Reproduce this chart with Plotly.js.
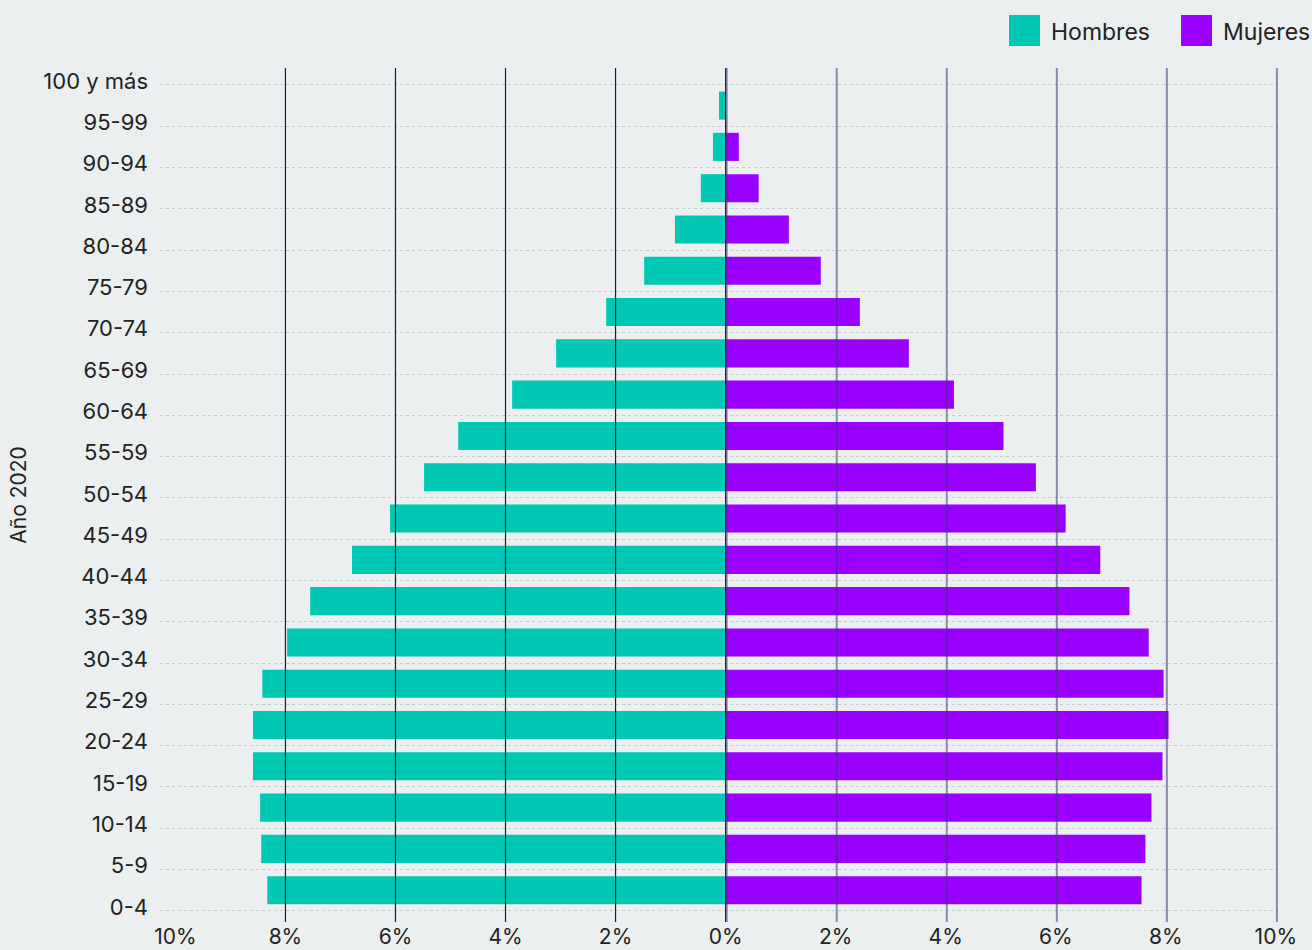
<!DOCTYPE html>
<html>
<head>
<meta charset="utf-8">
<script src="https://cdn.plot.ly/plotly-3.0.1.min.js"></script>
<style>
  html, body { margin: 0; padding: 0; background: #ebefef; }
  #chart { width: 1312px; height: 950px; }
</style>
</head>
<body>
<div id="chart"></div>
<script>
// Tick labels on the y axis (bottom to top)
const ageLabels = ["0-4","5-9","10-14","15-19","20-24","25-29","30-34","35-39","40-44","45-49",
  "50-54","55-59","60-64","65-69","70-74","75-79","80-84","85-89","90-94","95-99","100 y más"];

// Bar values in % of population (bottom bar to top bar)
const hombres = [8.33, 8.44, 8.46, 8.59, 8.59, 8.42, 7.97, 7.55, 6.79, 6.10,
  5.48, 4.86, 3.88, 3.08, 2.17, 1.48, 0.92, 0.45, 0.23, 0.12];
const mujeres = [7.56, 7.63, 7.74, 7.94, 8.05, 7.96, 7.69, 7.34, 6.81, 6.18,
  5.64, 5.05, 4.15, 3.33, 2.44, 1.73, 1.15, 0.60, 0.24, 0.0];

// X axis ticks (in %)
const xTicks = [-10, -8, -6, -4, -2, 0, 2, 4, 6, 8, 10];
const leftGrid = [-8, -6, -4, -2, 0];
const rightGrid = [0, 2, 4, 6, 8, 10];

const seriesNames = ["Hombres", "Mujeres"];
const seriesColors = ["#00c8b3", "#9900ff"];

const FONT = "Inter, 'Open Sans', sans-serif";
const barPos = hombres.map((_, i) => i + 0.5);

const traces = [
  {
    type: "bar", orientation: "h", name: seriesNames[0],
    x: hombres.map(v => -v), y: barPos,
    marker: { color: seriesColors[0], line: { width: 0 } },
    width: 0.68, showlegend: false,
    hovertemplate: "%{customdata}%<extra>Hombres</extra>", customdata: hombres
  },
  {
    type: "bar", orientation: "h", name: seriesNames[1],
    x: mujeres, y: barPos,
    marker: { color: seriesColors[1], line: { width: 0 } },
    width: 0.68, showlegend: false,
    hovertemplate: "%{x}%<extra>Mujeres</extra>"
  }
];

const shapes = [];
leftGrid.forEach(v => shapes.push({
  type: "line", xref: "x", yref: "paper", x0: v, x1: v, y0: 0, y1: 1,
  layer: "above", line: { color: "#1c1a45", width: 1.2 }
}));
rightGrid.forEach(v => shapes.push({
  type: "line", xref: "x", yref: "paper", x0: v + 0.02, x1: v + 0.02, y0: 0, y1: 1,
  layer: "above", line: { color: "rgba(60,52,120,0.55)", width: 2 }
}));

// Custom legend (large square swatches)
const annotations = [];
const legendX = [1009, 1181];
seriesNames.forEach((n, i) => {
  shapes.push({
    type: "rect", xref: "paper", yref: "paper",
    x0: (legendX[i] - 160) / 1118, x1: (legendX[i] + 31 - 160) / 1118,
    y0: 1 + (68 - 46) / 854, y1: 1 + (68 - 15) / 854,
    fillcolor: seriesColors[i], line: { width: 0 }, layer: "above"
  });
  annotations.push({
    xref: "paper", yref: "paper", x: (legendX[i] + 40 - 160) / 1118,
    y: 1 + (68 - 32) / 854, xanchor: "left", yanchor: "middle",
    text: n, showarrow: false, font: { family: FONT, size: 23, color: "#222" }
  });
});

const layout = {
  width: 1312, height: 950,
  paper_bgcolor: "#ebefef", plot_bgcolor: "#ebefef",
  margin: { l: 160, r: 34, t: 68, b: 28, pad: 0 },
  barmode: "relative",
  showlegend: false,
  font: { family: FONT, size: 22, color: "#222" },
  xaxis: {
    range: [-10.28, 10.04], tickvals: xTicks,
    ticktext: xTicks.map(v => Math.abs(v) + "%"),
    showgrid: false, zeroline: false, showline: false, ticks: "",
    ticklabelstandoff: 0,
    tickfont: { family: FONT, size: 21, color: "#222" },
    fixedrange: true
  },
  yaxis: {
    range: [-0.27, 20.41], tickvals: ageLabels.map((_, i) => i), ticktext: ageLabels,
    showgrid: true, gridcolor: "#c9cbcc", gridwidth: 1.2, griddash: "dot",
    zeroline: false, showline: false, ticks: "", ticklabelstandoff: 11,
    ticklabelshift: -4,
    tickfont: { family: FONT, size: 22, color: "#222" },
    title: { text: "Año 2020", standoff: 10, font: { family: FONT, size: 21, color: "#222" } },
    fixedrange: true
  },
  shapes: shapes,
  annotations: annotations
};

Plotly.newPlot("chart", traces, layout, { displayModeBar: false });
</script>
</body>
</html>
